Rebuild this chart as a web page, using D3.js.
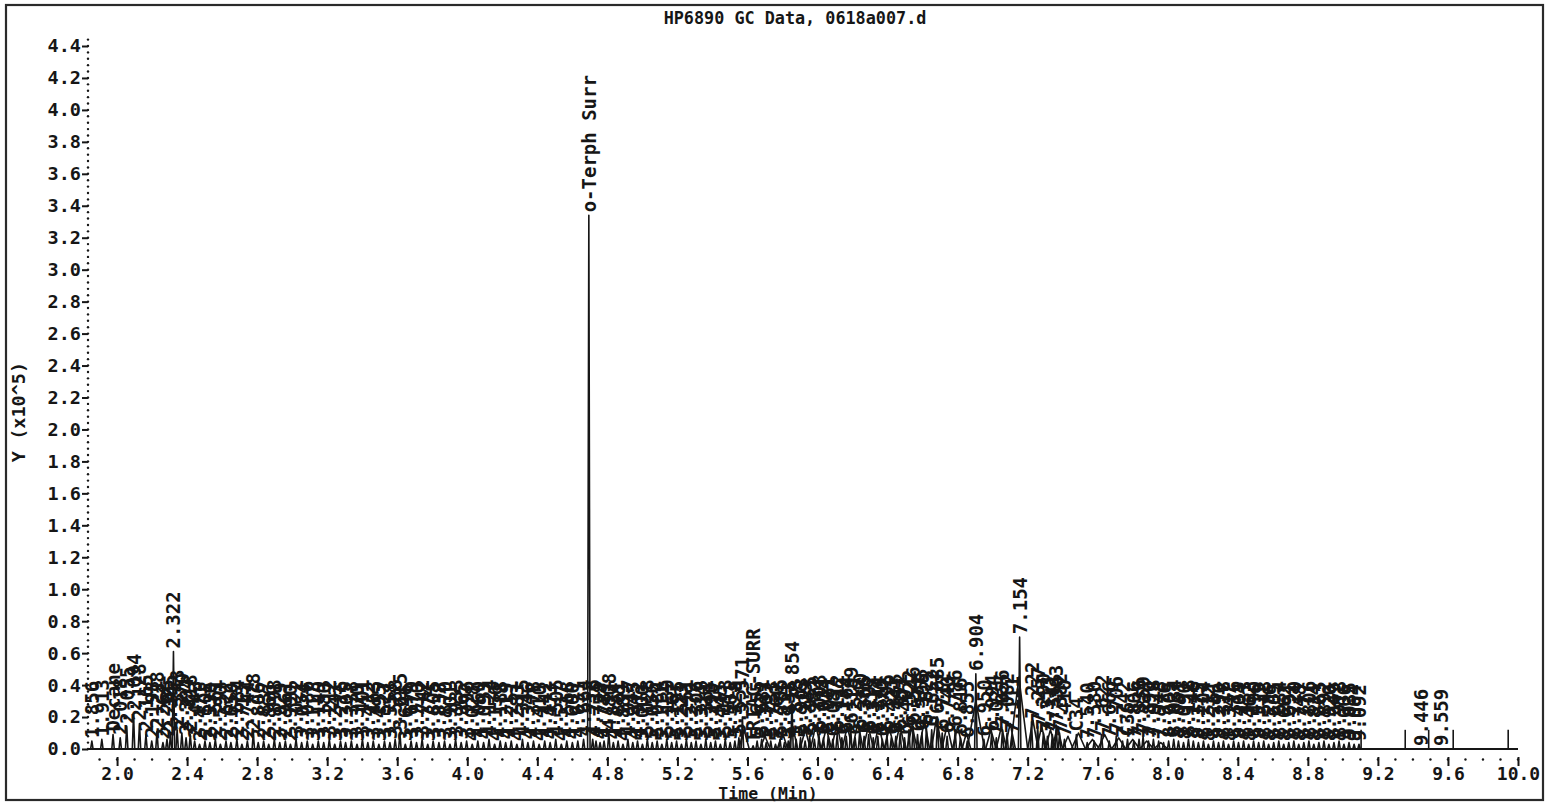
<!DOCTYPE html>
<html><head><meta charset="utf-8">
<script src="https://cdn.jsdelivr.net/npm/d3@7"></script>
<style>
html,body{margin:0;padding:0;background:#fff;}
svg{display:block;}
text{font-family:"DejaVu Sans Mono","Liberation Mono",monospace;fill:#161616;}
</style></head><body>
<svg id="chart" width="1552" height="803"></svg>
<script>
// ---------- DATA ----------
const titleText = "HP6890 GC Data, 0618a007.d";
const xAxisTitle = "Time (Min)";
const yAxisTitle = "Y (x10^5)";
const xTickValues = [2.0,2.4,2.8,3.2,3.6,4.0,4.4,4.8,5.2,5.6,6.0,6.4,6.8,7.2,7.6,8.0,8.4,8.8,9.2,9.6,10.0];
const xTickLabels = ["2.0","2.4","2.8","3.2","3.6","4.0","4.4","4.8","5.2","5.6","6.0","6.4","6.8","7.2","7.6","8.0","8.4","8.8","9.2","9.6","10.0"];
const yTickValues = [0,0.2,0.4,0.6,0.8,1.0,1.2,1.4,1.6,1.8,2.0,2.2,2.4,2.6,2.8,3.0,3.2,3.4,3.6,3.8,4.0,4.2,4.4];
const yTickLabels = ["0.0","0.2","0.4","0.6","0.8","1.0","1.2","1.4","1.6","1.8","2.0","2.2","2.4","2.6","2.8","3.0","3.2","3.4","3.6","3.8","4.0","4.2","4.4"];

// peaks: [retention time (min), apex height (x10^5)]
const peaksEarly = [
 [1.856,.05],[1.913,.06],[1.977,.09],[2.018,.07],[2.055,.14],[2.094,.22],[2.128,.16],[2.165,.09],[2.198,.05],[2.228,.11],
 [2.262,.04],[2.285,.06],[2.305,.09],[2.322,.61],[2.343,.12],[2.370,.10],[2.394,.07],[2.418,.09],[2.443,.05]
];
const peaksBeforeSurr = [
 [2.471,.03],[2.502,.05],[2.530,.04],[2.561,.06],[2.590,.03],[2.622,.05],[2.650,.04],[2.684,.06],[2.713,.03],[2.744,.05],
 [2.778,.10],[2.806,.04],[2.837,.05],[2.866,.03],[2.898,.06],[2.929,.04],[2.961,.05],[2.990,.03],[3.022,.06],[3.054,.04],
 [3.086,.05],[3.117,.03],[3.149,.05],[3.180,.04],[3.212,.06],[3.243,.03],[3.276,.05],[3.305,.04],[3.338,.05],[3.370,.03],
 [3.401,.06],[3.432,.04],[3.463,.05],[3.495,.03],[3.527,.05],[3.558,.04],[3.588,.06],[3.615,.10],[3.646,.03],[3.679,.05],
 [3.710,.04],[3.742,.06],[3.774,.03],[3.805,.05],[3.838,.04],[3.870,.05],[3.901,.03],[3.933,.06],[3.965,.04],[3.996,.05],
 [4.028,.03],[4.060,.05],[4.093,.04],[4.124,.06],[4.156,.03],[4.188,.05],[4.219,.04],[4.251,.05],[4.283,.03],[4.315,.06],
 [4.346,.04],[4.378,.05],[4.410,.03],[4.442,.05],[4.473,.04],[4.505,.06],[4.537,.03],[4.568,.05],[4.600,.04],[4.631,.05],
 [4.664,.06]
];
const peaksSurrogate = [[4.694,3.34]];
const peaksMid = [
 [4.716,.06],[4.735,.05],[4.758,.04],[4.781,.05],[4.808,.10],[4.834,.04],[4.861,.05],[4.889,.03],[4.917,.06],[4.945,.04],
 [4.972,.05],[5.000,.03],[5.028,.06],[5.056,.04],[5.084,.05],[5.111,.03],[5.139,.06],[5.167,.04],[5.195,.05],[5.223,.03],
 [5.251,.06],[5.279,.04],[5.306,.05],[5.334,.03],[5.362,.06],[5.390,.04],[5.417,.05],[5.445,.03],[5.473,.06],[5.501,.04],
 [5.528,.05],[5.551,.07],[5.571,.20],[5.632,.02],[5.655,.05],[5.681,.06],[5.707,.04],[5.733,.05],[5.760,.03],[5.786,.06],
 [5.811,.04],[5.833,.05],[5.854,.30],[5.878,.06],[5.903,.07],[5.929,.05],[5.955,.08],[5.982,.06],[6.008,.09],[6.034,.07],
 [6.061,.08],[6.087,.06],[6.112,.09],[6.139,.07],[6.164,.08],[6.189,.14],[6.215,.07],[6.240,.10],[6.266,.08],[6.292,.09],
 [6.318,.07],[6.344,.08],[6.370,.06],[6.396,.09],[6.421,.07],[6.447,.08],[6.472,.10],[6.497,.07],[6.522,.12],[6.546,.14],
 [6.571,.09],[6.596,.10],[6.622,.13],[6.652,.12],[6.685,.20],[6.712,.10],[6.740,.08],[6.786,.12],[6.816,.07],[6.855,.05]
];
const peaksLate = [
 [6.904,.47],[6.950,.06],[6.994,.09],[7.021,.07],[7.056,.12],[7.082,.10],[7.111,.08],[7.154,.70],[7.222,.17],[7.257,.14],
 [7.290,.10],[7.313,.08],[7.341,.09],[7.363,.15],[7.382,.10],[7.410,.06],[7.478,.09],[7.540,.04],[7.580,.05],[7.622,.09],
 [7.666,.05],[7.706,.08],[7.742,.05],[7.770,.06],[7.806,.05],[7.836,.06],[7.859,.08],[7.890,.05],[7.918,.06],[7.948,.05],
 [7.976,.04],[8.005,.05],[8.034,.06],[8.061,.05],[8.090,.04],[8.118,.06],[8.146,.05],[8.175,.04],[8.204,.05],[8.232,.03],
 [8.261,.05],[8.290,.04],[8.318,.05],[8.347,.03],[8.376,.05],[8.404,.04],[8.433,.05],[8.462,.03],[8.490,.05],[8.519,.04],
 [8.548,.05],[8.576,.03],[8.605,.04],[8.634,.05],[8.662,.03],[8.691,.04],[8.720,.05],[8.748,.03],[8.777,.04],[8.806,.05],
 [8.834,.03],[8.863,.04],[8.892,.05],[8.920,.03],[8.949,.04],[8.978,.05],[9.006,.03],[9.035,.04],[9.064,.03],[9.092,.03],
 [9.446,.00],[9.559,.00]
];
// named compounds (retention time -> label)
const namedRT = [1.977, 4.694, 5.632, 7.478, 7.770];
const namedLabel = ["Decane", "o-Terph Surr", "TRIAC-SURR", "C34", "C36"];

// broad unresolved humps: [rt, height, half width (min)]
const humps = [
 [5.58,.12,.03],[5.70,.08,.03],[5.80,.10,.03],[5.86,.14,.025],[5.93,.12,.03],[5.99,.15,.03],[6.05,.13,.03],[6.11,.16,.03],
 [6.17,.14,.03],[6.23,.17,.03],[6.29,.14,.03],[6.35,.15,.03],[6.41,.13,.03],[6.47,.15,.03],[6.54,.14,.03],[6.61,.18,.03],
 [6.68,.20,.03],[6.74,.15,.03],[6.80,.14,.03],[6.85,.10,.025],[6.904,.30,.05],[6.99,.12,.03],[7.05,.14,.03],[7.10,.16,.03],
 [7.15,.45,.05],[7.23,.18,.03],[7.28,.14,.03],[7.33,.12,.03],[7.37,.14,.03],[7.43,.08,.03],[7.49,.10,.04],[7.57,.06,.04],
 [7.64,.09,.04],[7.72,.07,.04],[7.80,.06,.04],[7.88,.05,.04],[7.96,.04,.04]
];
// integration event tick marks
const markerRT = [9.104, 9.356, 9.49, 9.63, 9.944];
const markerHeight = 0.12;

// ---------- CHART ----------
const svg = d3.select("#chart");
const ink = "#161616";
const x = d3.scaleLinear().domain([1.834, 10.0]).range([88, 1518]);
const y = d3.scaleLinear().domain([0, 4.4]).range([749, 46]);

// frame
svg.append("rect").attr("x",6).attr("y",5).attr("width",1537).attr("height",795)
  .attr("fill","none").attr("stroke","#2a2a2a").attr("stroke-width",2.2);

// title
svg.append("text").attr("x",795).attr("y",24).attr("text-anchor","middle")
  .attr("font-size",16.8).attr("font-weight","bold").text(titleText);

// y axis: dotted line + major dashes
svg.append("g").selectAll("circle").data(d3.range(0, 4.45, 0.04)).join("circle")
  .attr("cx",88).attr("cy",d=>y(d)).attr("r",1.2).attr("fill",ink);
const yAxis = d3.axisLeft(y).tickValues(yTickValues).tickSize(6).tickPadding(1)
  .tickFormat((d,i)=>yTickLabels[i]);
const gy = svg.append("g").attr("transform","translate(88,0)").call(yAxis);
gy.select(".domain").remove();
gy.selectAll("line").attr("stroke",ink).attr("stroke-width",2);
gy.selectAll("text").attr("font-size",18.5).attr("font-weight","bold").attr("fill",ink)
  .attr("font-family",'"DejaVu Sans Mono",monospace');

// x axis: dotted + major ticks
svg.append("g").selectAll("circle").data(d3.range(1.9, 10.01, 0.1)).join("circle")
  .attr("cx",d=>x(d)).attr("cy",759.5).attr("r",1.2).attr("fill",ink);
const xAxis = d3.axisBottom(x).tickValues(xTickValues).tickSize(9).tickPadding(1)
  .tickFormat((d,i)=>xTickLabels[i]);
const gx = svg.append("g").attr("transform","translate(0,757)").call(xAxis);
gx.select(".domain").remove();
gx.selectAll("line").attr("stroke",ink).attr("stroke-width",2);
gx.selectAll("text").attr("font-size",18).attr("font-weight","bold").attr("fill",ink)
  .attr("font-family",'"DejaVu Sans Mono",monospace');

// axis titles
svg.append("text").attr("x",768).attr("y",798.5).attr("text-anchor","middle")
  .attr("font-size",16.5).attr("font-weight","bold").text(xAxisTitle);
svg.append("text").attr("transform","translate(25,412) rotate(-90)").attr("text-anchor","middle")
  .attr("font-size",18.5).attr("font-weight","bold").text(yAxisTitle);

// baseline
svg.append("line").attr("x1",x(1.834)).attr("x2",x(10.0)).attr("y1",y(0)).attr("y2",y(0))
  .attr("stroke",ink).attr("stroke-width",1.8);

const line = d3.line();
const trace = svg.append("g").attr("fill","none").attr("stroke",ink).attr("stroke-width",1.6)
  .attr("stroke-linejoin","round");

// humps
trace.selectAll("path.hump").data(humps).join("path").attr("class","hump")
  .attr("d",d=>line([[x(d[0]-d[2]),y(0)],[x(d[0]),y(d[1])],[x(d[0]+d[2]),y(0)]]));

// peaks
const allPeaks = [].concat(peaksEarly, peaksBeforeSurr, peaksSurrogate, peaksMid, peaksLate);
const spikeHalf = 0.007;
trace.selectAll("path.peak").data(allPeaks.filter(d=>d[1]>0)).join("path").attr("class","peak")
  .attr("d",d=>line([[x(d[0]-spikeHalf),y(0)],[x(d[0]),y(d[1])],[x(d[0]+spikeHalf),y(0)]]));

// markers
trace.selectAll("line.mk").data(markerRT).join("line").attr("class","mk")
  .attr("x1",d=>x(d)).attr("x2",d=>x(d)).attr("y1",y(0)).attr("y2",y(markerHeight));

// labels
const fmt = d3.format(".3f");
function labelOf(rt){
  const k = namedRT.indexOf(rt);
  return k >= 0 ? namedLabel[k] : fmt(rt);
}
svg.append("g").selectAll("text").data(allPeaks).join("text")
  .attr("transform",d=>`translate(${x(d[0])},${y(d[1])-3}) rotate(-90)`)
  .attr("text-anchor","start").attr("dominant-baseline","central")
  .attr("font-size",19).attr("font-weight","bold").text(d=>labelOf(d[0]));
</script>
</body></html>
